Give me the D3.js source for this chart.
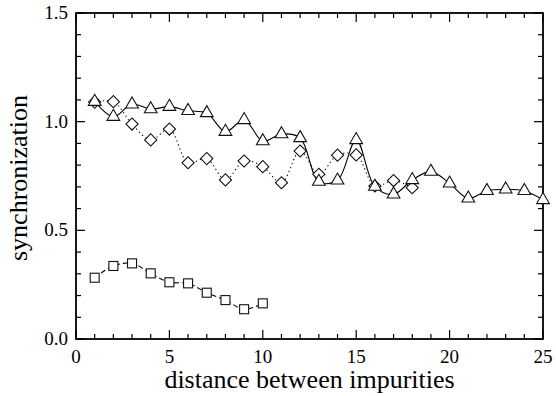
<!DOCTYPE html>
<html><head><meta charset="utf-8"><script src="https://cdn.jsdelivr.net/npm/d3@7"></script></head>
<body style="margin:0">
<script>
// distances between impurities
const xTriangles = d3.range(1, 26)
const triangles = [1.092, 1.023, 1.08, 1.058, 1.069, 1.05, 1.04, 0.954, 1.008, 0.911,
  0.943, 0.925, 0.724, 0.73, 0.916, 0.701, 0.666, 0.732, 0.77, 0.716,
  0.647, 0.682, 0.689, 0.682, 0.64]
const xDiamonds = d3.range(1, 19)
const diamonds = [1.09, 1.092, 0.989, 0.916, 0.966, 0.811, 0.83, 0.732, 0.819, 0.793,
  0.719, 0.865, 0.758, 0.846, 0.847, 0.704, 0.729, 0.696]
const xSquares = d3.range(1, 11)
const squares = [0.282, 0.336, 0.348, 0.302, 0.261, 0.256, 0.213, 0.179, 0.137, 0.164]

const xTicks = [0, 5, 10, 15, 20, 25]
const yTicks = [0, 0.5, 1.0, 1.5]

const serif = d => `"Liberation Serif"`

const toPoints = (xs, ys) => xs.map((x, i) => ({ x, y: ys[i] }))

const dimensions = {
  width: 556,
  height: 396,
  margin: { top: 13, right: 13, bottom: 57, left: 76 },
}
dimensions.boundedWidth = dimensions.width - dimensions.margin.left - dimensions.margin.right
dimensions.boundedHeight = dimensions.height - dimensions.margin.top - dimensions.margin.bottom

const wrapper = d3.select("body")
  .append("svg")
    .attr("width", dimensions.width)
    .attr("height", dimensions.height)

const bounds = wrapper.append("g")
  .attr("transform", `translate(${dimensions.margin.left},${dimensions.margin.top})`)

const xScale = d3.scaleLinear().domain([0, 25]).range([0, dimensions.boundedWidth])
const yScale = d3.scaleLinear().domain([0, 1.5]).range([dimensions.boundedHeight, 0])

// ticks on all four sides, pointing inwards
const majorLen = 9, minorLen = 5
const xMinor = d3.range(0, 26, 1)
const yMinor = d3.range(0, 16).map(d => d / 10)

const tickG = bounds.append("g").attr("stroke", "#000").attr("stroke-width", 1.2)
xMinor.forEach(v => {
  const len = xTicks.includes(v) ? majorLen : minorLen
  tickG.append("line").attr("x1", xScale(v)).attr("x2", xScale(v))
    .attr("y1", dimensions.boundedHeight).attr("y2", dimensions.boundedHeight - len)
  tickG.append("line").attr("x1", xScale(v)).attr("x2", xScale(v))
    .attr("y1", 0).attr("y2", len)
})
yMinor.forEach(v => {
  const len = yTicks.some(t => Math.abs(t - v) < 1e-9) ? majorLen : minorLen
  tickG.append("line").attr("x1", 0).attr("x2", len)
    .attr("y1", yScale(v)).attr("y2", yScale(v))
  tickG.append("line").attr("x1", dimensions.boundedWidth).attr("x2", dimensions.boundedWidth - len)
    .attr("y1", yScale(v)).attr("y2", yScale(v))
})

bounds.append("rect")
  .attr("width", dimensions.boundedWidth)
  .attr("height", dimensions.boundedHeight)
  .attr("fill", "none")
  .attr("stroke", "#000")
  .attr("stroke-width", 1.8)

// tick labels
bounds.selectAll(".xlabel").data(xTicks).join("text")
  .attr("x", d => xScale(d))
  .attr("y", dimensions.boundedHeight + 24)
  .attr("text-anchor", "middle")
  .style("font-family", serif)
  .style("font-size", "19px")
  .text(d => d)

bounds.selectAll(".ylabel").data(yTicks).join("text")
  .attr("x", -8)
  .attr("y", d => yScale(d) + 6)
  .attr("text-anchor", "end")
  .style("font-family", serif)
  .style("font-size", "19px")
  .text(d => d.toFixed(1))

wrapper.append("text")
  .attr("x", dimensions.margin.left + dimensions.boundedWidth / 2)
  .attr("y", 388)
  .attr("text-anchor", "middle")
  .style("font-family", serif)
  .style("font-size", "26px")
  .text("distance between impurities")

wrapper.append("text")
  .attr("transform", `translate(27,${dimensions.margin.top + dimensions.boundedHeight / 2 + 2}) rotate(-90)`)
  .attr("text-anchor", "middle")
  .style("font-family", serif)
  .style("font-size", "26px")
  .text("synchronization")

// lines
const lineGenerator = d3.line()
  .x(d => xScale(d.x))
  .y(d => yScale(d.y))
  .curve(d3.curveCatmullRom.alpha(0.5))

const triData = toPoints(xTriangles, triangles)
const diaData = toPoints(xDiamonds, diamonds)
const sqData = toPoints(xSquares, squares)

bounds.append("path")
  .attr("d", lineGenerator(diaData))
  .attr("fill", "none").attr("stroke", "#000").attr("stroke-width", 1.1)
  .attr("stroke-dasharray", "1.2,3")

bounds.append("path")
  .attr("d", lineGenerator(sqData))
  .attr("fill", "none").attr("stroke", "#000").attr("stroke-width", 1.1)
  .attr("stroke-dasharray", "5,3")

bounds.append("path")
  .attr("d", lineGenerator(triData))
  .attr("fill", "none").attr("stroke", "#000").attr("stroke-width", 1.1)

// markers
const markerStroke = "#111"
bounds.selectAll(".diamond").data(diaData).join("rect")
  .attr("x", -4.3).attr("y", -4.3).attr("width", 8.6).attr("height", 8.6)
  .attr("transform", d => `translate(${xScale(d.x)},${yScale(d.y)}) rotate(45)`)
  .attr("fill", "#fff").attr("stroke", markerStroke).attr("stroke-width", 1.1)

bounds.selectAll(".square").data(sqData).join("rect")
  .attr("x", d => xScale(d.x) - 4.5).attr("y", d => yScale(d.y) - 4.5)
  .attr("width", 9).attr("height", 9)
  .attr("fill", "#fff").attr("stroke", markerStroke).attr("stroke-width", 1.1)

const triSymbol = d3.symbol().type(d3.symbolTriangle).size(70)
bounds.selectAll(".triangle").data(triData).join("path")
  .attr("d", triSymbol)
  .attr("transform", d => `translate(${xScale(d.x)},${yScale(d.y)})`)
  .attr("fill", "#fff").attr("stroke", markerStroke).attr("stroke-width", 1.1)
</script>
</body>
</html>
